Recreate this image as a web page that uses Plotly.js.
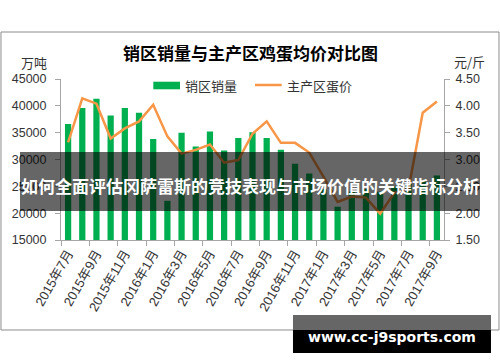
<!DOCTYPE html>
<html>
<head>
<meta charset="utf-8">
<script src="https://cdn.plot.ly/plotly-3.0.1.min.js"></script>
<style>html,body{margin:0;padding:0;background:#fff;}#chart{width:500px;height:362px;}</style>
</head>
<body>
<div id="chart"></div>
<script>
var months = ['2015年7月','2015年8月','2015年9月','2015年10月','2015年11月','2015年12月',
  '2016年1月','2016年2月','2016年3月','2016年4月','2016年5月','2016年6月',
  '2016年7月','2016年8月','2016年9月','2016年10月','2016年11月','2016年12月',
  '2017年1月','2017年2月','2017年3月','2017年4月','2017年5月','2017年6月',
  '2017年7月','2017年8月','2017年9月'];
var salesVolume = [36600,39600,41300,38200,39600,38700,33800,22300,35000,32400,35200,31700,
  34000,35100,34000,31800,29200,27400,24500,21200,24000,24500,24000,25000,25500,26000,27000];
var eggPrice = [3.32,4.14,4.04,3.39,3.58,3.71,4.02,3.43,3.11,3.18,3.28,2.94,
  2.99,3.48,3.71,3.31,3.31,3.13,2.68,2.21,2.31,2.29,1.99,2.38,2.45,3.87,4.08];
var seriesNames = ['销区销量','主产区蛋价'];
var chartTitle = '销区销量与主产区鸡蛋均价对比图';
var leftUnit = '万吨';
var rightUnit = '元/斤';
var bannerText = '如何全面评估冈萨雷斯的竞技表现与市场价值的关键指标分析';
var siteText = 'www.cc-j9sports.com';

var FONT = 'Liberation Sans, Arial, Noto Sans CJK SC, sans-serif';
var CJK = 'Noto Sans CJK SC, sans-serif';
var GREEN = '#00b050', ORANGE = '#f79646';

var traces = [
  {type:'bar', x:months, y:salesVolume, name:seriesNames[0], marker:{color:GREEN}, yaxis:'y', hoverinfo:'skip'},
  {type:'scatter', mode:'lines', x:months, y:eggPrice, name:seriesNames[1], yaxis:'y2',
   line:{color:ORANGE, width:2.5}, hoverinfo:'skip'}
];

var layout = {
  width:500, height:362,
  margin:{l:61, r:56, t:79, b:122, pad:0},
  paper_bgcolor:'#fff', plot_bgcolor:'rgba(0,0,0,0)',
  showlegend:false,
  bargap:0.56,
  font:{family:FONT, size:12.5, color:'#333'},
  xaxis:{type:'category', tickmode:'linear', tick0:0, dtick:2, tickson:'boundaries',
    ticks:'outside', ticklen:5, tickcolor:'#a6a6a6', tickangle:-60,
    showline:true, linecolor:'#a6a6a6', linewidth:1, showgrid:false, zeroline:false,
    tickfont:{family:FONT, size:13, color:'#333'}, automargin:false, fixedrange:true},
  yaxis:{range:[15000,45000], dtick:5000, tickformat:'d', ticks:'outside', ticklen:5,
    tickcolor:'#a6a6a6', showline:true, linecolor:'#a6a6a6', showgrid:false, zeroline:false,
    ticklabelstandoff:6, tickfont:{family:FONT, size:12.5, color:'#333'}, automargin:false, fixedrange:true},
  yaxis2:{range:[1.5,4.5], dtick:0.5, tickformat:'.2f', overlaying:'y', side:'right', ticks:'outside',
    ticklen:5, tickcolor:'#a6a6a6', showline:true, linecolor:'#a6a6a6', showgrid:false, zeroline:false,
    ticklabelstandoff:3, tickfont:{family:FONT, size:12.5, color:'#333'}, automargin:false, fixedrange:true},
  shapes:[
    // chart frame
    {type:'rect', xref:'paper', yref:'paper', x0:-0.1567, x1:1.1436, y0:-0.559, y1:1.2919,
     line:{color:'#8c8c8c', width:1}, fillcolor:'rgba(0,0,0,0)', layer:'below'},
    // legend keys
    {type:'rect', xref:'paper', yref:'paper', x0:0.241, x1:0.3107, y0:0.936, y1:0.9832,
     line:{width:0}, fillcolor:GREEN},
    {type:'line', xref:'paper', yref:'paper', x0:0.5065, x1:0.5762, y0:0.9627, y1:0.9627,
     line:{color:ORANGE, width:2.5}},
    // banner
    {type:'rect', xref:'paper', yref:'paper', x0:-0.10705, x1:1.094, y0:0.1801, y1:0.5466,
     line:{width:0}, fillcolor:'rgba(0,0,0,0.6)', layer:'above'},
    // site box
    {type:'rect', xref:'paper', yref:'paper', x0:0.6057, x1:1.1227, y0:-0.559, y1:-0.4658,
     line:{width:0}, fillcolor:'rgb(102,102,102)', layer:'above'},
    {type:'rect', xref:'paper', yref:'paper', x0:0.6057, x1:1.1227, y0:-0.7019, y1:-0.559,
     line:{width:0}, fillcolor:'#000', layer:'above'}
  ],
  annotations:[
    {text:'<b>'+chartTitle+'</b>', xref:'paper', yref:'paper', x:0.4935, y:1.1677, showarrow:false,
     xanchor:'center', yanchor:'middle', font:{family:CJK, size:17, color:'#000'}},
    {text:leftUnit, xref:'paper', yref:'paper', x:-0.0713, y:1.1037, showarrow:false,
     xanchor:'center', yanchor:'middle', font:{family:CJK, size:13, color:'#333'}},
    {text:rightUnit, xref:'paper', yref:'paper', x:1.0666, y:1.1118, showarrow:false,
     xanchor:'center', yanchor:'middle', font:{family:CJK, size:13, color:'#333'}},
    {text:seriesNames[0], xref:'paper', yref:'paper', x:0.3178, y:0.9584, showarrow:false,
     xanchor:'left', yanchor:'middle', font:{family:CJK, size:13, color:'#333'}},
    {text:seriesNames[1], xref:'paper', yref:'paper', x:0.5849, y:0.9627, showarrow:false,
     xanchor:'left', yanchor:'middle', font:{family:CJK, size:13, color:'#333'}},
    {text:'<b>'+bannerText+'</b>', xref:'paper', yref:'paper', x:0.4935, y:0.3416, showarrow:false,
     xanchor:'center', yanchor:'middle', font:{family:CJK, size:17, color:'#fff'}},
    {text:'<b>'+siteText+'</b>', xref:'paper', yref:'paper', x:0.8642, y:-0.6025, showarrow:false,
     xanchor:'center', yanchor:'middle', font:{family:'DejaVu Sans, sans-serif', size:14, color:'#fff'}}
  ]
};

Plotly.newPlot('chart', traces, layout, {staticPlot:true, displayModeBar:false});
</script>
</body>
</html>
